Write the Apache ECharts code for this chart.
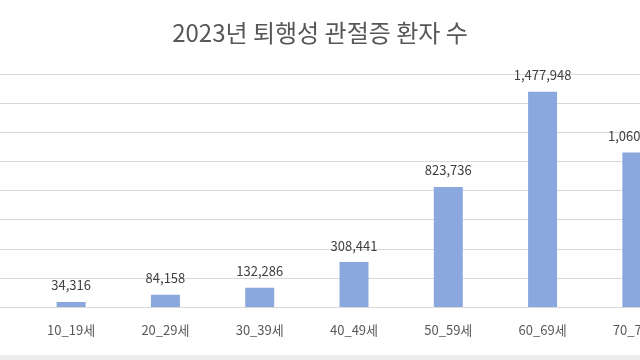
<!DOCTYPE html>
<html><head><meta charset="utf-8">
<script src="https://cdn.jsdelivr.net/npm/echarts@6/dist/echarts.min.js"></script>
<style>html,body{margin:0;padding:0;background:#fff}#c{width:640px;height:360px}</style>
</head><body><div id="c"></div>
<script>
const categories = ['10_19세','20_29세','30_39세','40_49세','50_59세','60_69세','70_79세'];
const patients = [34316, 84158, 132286, 308441, 823736, 1477948, 1060490];
const yMin = 0, yMax = 1600000, yInterval = 200000;
const titleText = '2023년 퇴행성 관절증 환자 수';
const fmt = v => String(v).replace(/\B(?=(\d{3})+(?!\d))/g, ',');
const font = '"Noto Sans CJK KR", "Noto Sans", sans-serif';
const chart = echarts.init(document.getElementById('c'), null, {renderer:'canvas'});
chart.setOption({
  animation:false,
  backgroundColor:'#fff',
  title:{text:titleText,left:'center',top:16,textStyle:{fontFamily:font,fontSize:24,fontWeight:'normal',color:'#575757'}},
  graphic:[{type:'rect',left:0,bottom:0,shape:{width:640,height:5},style:{fill:'#ececec'},silent:true}],
  grid:[
    {left:0,right:0,top:74,bottom:53,outerBoundsMode:'none'},
    {left:24,width:660,top:74,bottom:53,outerBoundsMode:'none',containLabel:false}
  ],
  xAxis:[
    {gridIndex:0,type:'category',data:categories,show:false},
    {gridIndex:1,type:'category',data:categories,
     axisLine:{show:false},axisTick:{show:false},
     axisLabel:{margin:17,fontFamily:font,fontSize:13,color:'#595959'}}
  ],
  yAxis:[
    {gridIndex:0,type:'value',min:yMin,max:yMax,interval:yInterval,
     axisLabel:{show:false},axisLine:{show:false},axisTick:{show:false},
     splitLine:{lineStyle:{color:'#d9d9d9',width:1}}},
    {gridIndex:1,type:'value',min:yMin,max:yMax,interval:yInterval,show:false,splitLine:{show:false}}
  ],
  series:[{
    type:'bar',xAxisIndex:1,yAxisIndex:1,data:patients,barWidth:29,
    itemStyle:{color:'#8aa8de'},
    label:{show:true,position:'top',distance:10,fontFamily:font,fontSize:13,color:'#404040',formatter:p=>fmt(p.value)}
  }]
});
</script></body></html>
